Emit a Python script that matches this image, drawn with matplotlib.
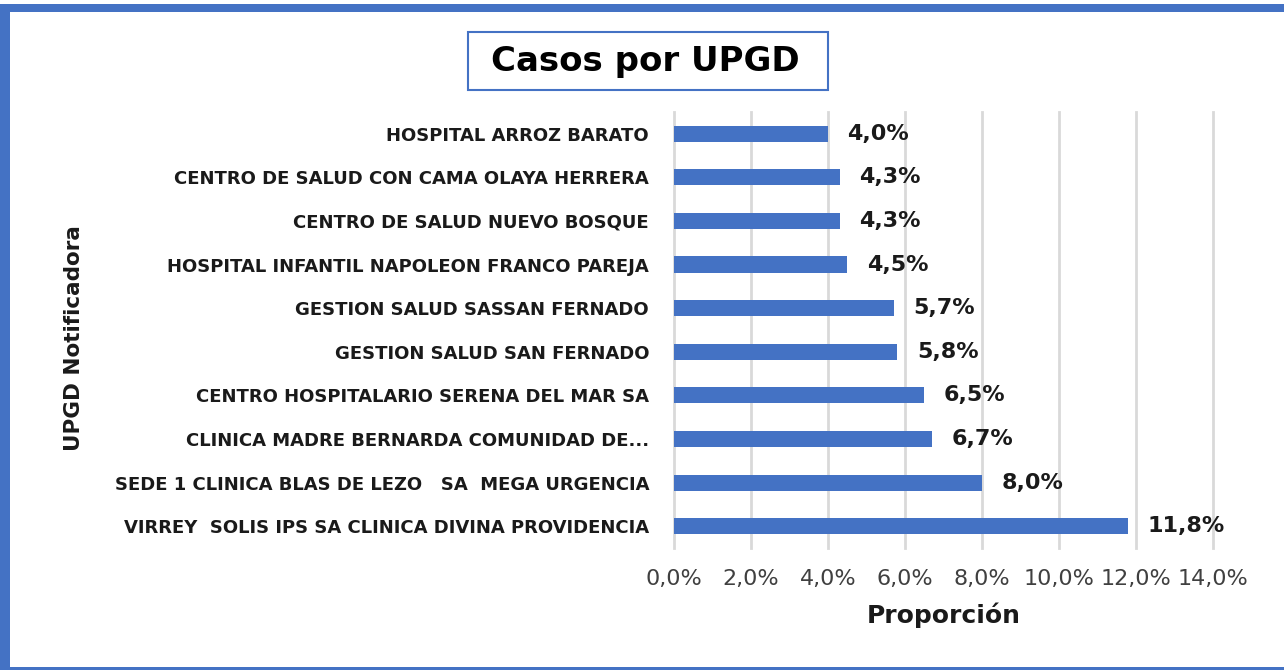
import matplotlib
matplotlib.use("Agg")
import matplotlib.pyplot as plt
from matplotlib.patches import Rectangle
from matplotlib.ticker import FuncFormatter, MultipleLocator

# Data (bottom to top)
categories = [
    "VIRREY  SOLIS IPS SA CLINICA DIVINA PROVIDENCIA",
    "SEDE 1 CLINICA BLAS DE LEZO   SA  MEGA URGENCIA",
    "CLINICA MADRE BERNARDA COMUNIDAD DE...",
    "CENTRO HOSPITALARIO SERENA DEL MAR SA",
    "GESTION SALUD SAN FERNADO",
    "GESTION SALUD SASSAN FERNADO",
    "HOSPITAL INFANTIL NAPOLEON FRANCO PAREJA",
    "CENTRO DE SALUD NUEVO BOSQUE",
    "CENTRO DE SALUD CON CAMA OLAYA HERRERA",
    "HOSPITAL ARROZ BARATO",
]
proportions = [0.118, 0.080, 0.067, 0.065, 0.058, 0.057, 0.045, 0.043, 0.043, 0.040]

BLUE = "#4472C4"
TXT = "#1a1a1a"
plt.rcParams["font.family"] = "DejaVu Sans"


def pct(v, _pos=None):
    return f"{v * 100:.1f}%".replace(".", ",")


fig = plt.figure(figsize=(12.84, 6.70), dpi=100)
fig.patch.set_facecolor("white")

# outer frame
fig.add_artist(Rectangle((0, 0.0), 0.008, 0.993, transform=fig.transFigure,
                         facecolor=BLUE, edgecolor="none"))
fig.add_artist(Rectangle((0, 0.982), 1.0, 0.012, transform=fig.transFigure,
                         facecolor=BLUE, edgecolor="none"))
fig.add_artist(Rectangle((0, 0.0), 1.0, 0.004, transform=fig.transFigure,
                         facecolor=BLUE, edgecolor="none"))

ax = fig.add_axes([0.525, 0.182, 0.4197, 0.651])
y = range(len(categories))
ax.barh(y, proportions, height=0.37, color=BLUE, zorder=3)

for yi, v in zip(y, proportions):
    ax.annotate(pct(v), (v, yi), xytext=(14, 0), textcoords="offset points",
                va="center", ha="left", fontsize=16, fontweight="bold", color=TXT)

ax.set_xlim(0, 0.14)
ax.set_ylim(-0.5, len(categories) - 0.5)
ax.xaxis.set_major_locator(MultipleLocator(0.02))
ax.xaxis.set_major_formatter(FuncFormatter(pct))
ax.set_yticks(list(y))
ax.set_yticklabels(categories, fontsize=13, fontweight="bold", color=TXT)
for lab in ax.get_xticklabels():
    lab.set_fontsize(16)
    lab.set_color("#404040")

ax.tick_params(axis="x", length=0, pad=15)
ax.tick_params(axis="y", length=0, pad=18)
ax.grid(axis="x", color="#D9D9D9", linewidth=2, zorder=0)
for line in ax.get_xgridlines():
    line.set_clip_on(False)
for s in ax.spines.values():
    s.set_visible(False)

ax.set_xlabel("Proporción", fontsize=18, fontweight="bold", color=TXT, labelpad=10)
fig.text(0.058, 0.495, "UPGD Notificadora", rotation=90, ha="center", va="center",
         fontsize=15.5, fontweight="bold", color=TXT)

# title with framed box
fig.add_artist(Rectangle((468 / 1284, 1 - 90 / 670), 360 / 1284, 58 / 670,
                         transform=fig.transFigure, facecolor="white",
                         edgecolor=BLUE, linewidth=1.5))
fig.text(645 / 1284, 1 - 62 / 670, "Casos por UPGD", ha="center", va="center",
         fontsize=24.5, fontweight="bold", color="black")

fig.savefig("out.png", dpi=100, facecolor="white")
